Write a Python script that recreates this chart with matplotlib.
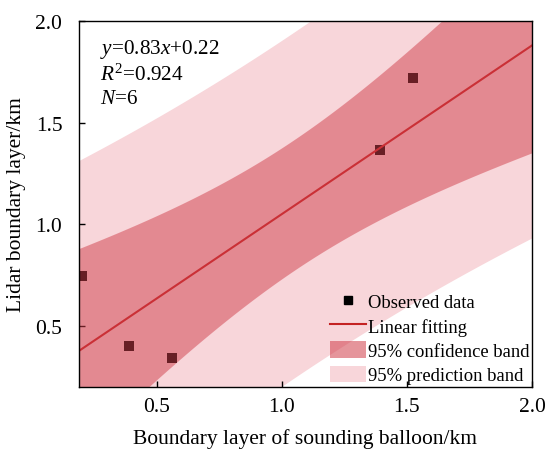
import numpy as np
import matplotlib.pyplot as plt
from matplotlib.lines import Line2D
from matplotlib.patches import Patch

plt.rcParams['font.family'] = 'Liberation Serif'
plt.rcParams['mathtext.fontset'] = 'custom'
plt.rcParams['mathtext.rm'] = 'Liberation Serif'
plt.rcParams['mathtext.it'] = 'Liberation Serif:italic'

# boundary layer height (km): sounding balloon vs lidar
balloon = [0.204, 0.388, 0.56, 1.392, 1.524, 2.23]
lidar = [0.745, 0.402, 0.343, 1.368, 1.72, 2.01]

# fitted line as reported
slope = 0.83
intercept = 0.22
r2 = 0.924
t95 = 2.776  # t(0.975, df=4)

x = np.array(balloon)
y = np.array(lidar)
n = len(x)
resid = y - (slope * x + intercept)
s = np.sqrt(np.sum(resid ** 2) / (n - 2))
xm = x.mean()
sxx = np.sum((x - xm) ** 2)

xs = np.linspace(0.19, 2.0, 300)
fit = slope * xs + intercept
conf = t95 * s * np.sqrt(1 / n + (xs - xm) ** 2 / sxx)
pred = t95 * s * np.sqrt(1 + 1 / n + (xs - xm) ** 2 / sxx)

fig = plt.figure(figsize=(5.47, 4.52), dpi=100)
ax = fig.add_axes([0.1444, 0.1416, 0.8282, 0.8097])

conf_col = (208 / 255, 62 / 255, 74 / 255)
pred_col = '#f8d6da'

ax.fill_between(xs, fit - pred, fit + pred, color=pred_col, lw=0, zorder=1)
ax.scatter(x, y, marker='s', s=42, color='black', lw=0, zorder=2)
ax.plot(xs, fit, color='#c42222', lw=1.5, zorder=3)
ax.fill_between(xs, fit - conf, fit + conf, color=conf_col, alpha=0.5, lw=0, zorder=4)

ax.set_xlim(0.19, 2.0)
ax.set_ylim(0.2, 2.0)
ax.set_xticks([0.5, 1.0, 1.5, 2.0])
ax.set_yticks([0.5, 1.0, 1.5, 2.0])
ax.tick_params(direction='in', length=4, width=1, labelsize=15.5)
ax.tick_params(axis='x', pad=7)
ax.tick_params(axis='y', pad=12)
for sp in ax.spines.values():
    sp.set_linewidth(1.0)
    sp.set_zorder(6)

ax.set_xlabel('Boundary layer of sounding balloon/km', fontsize=15.5)
ax.set_ylabel('Lidar boundary layer/km', fontsize=15.5)
ax.xaxis.set_label_coords(0.5, -0.113)
ax.yaxis.set_label_coords(-0.117, 0.5)

ax.text(0.046, 0.955, r'$y$=%.2f$x$+%.2f' % (slope, intercept), transform=ax.transAxes,
        fontsize=15.3, va='top', zorder=7)
ax.text(0.046, 0.885, r'$R^2$=%.3f' % r2, transform=ax.transAxes,
        fontsize=15.3, va='top', zorder=7)
ax.text(0.046, 0.815, r'$N$=%d' % n, transform=ax.transAxes,
        fontsize=15.3, va='top', zorder=7)

handles = [
    Line2D([], [], marker='s', color='black', ls='none', markersize=6),
    Line2D([], [], color='#c42222', lw=1.5),
    Patch(facecolor=conf_col, alpha=0.55, lw=0),
    Patch(facecolor=pred_col, lw=0),
]
labels = ['Observed data', 'Linear fitting', '95% confidence band', '95% prediction band']
ax.legend(handles, labels, loc='lower right', frameon=False, fontsize=13.4,
          handlelength=1.9, handleheight=1.0, handletextpad=0.1,
          labelspacing=0.3, borderaxespad=0.0, borderpad=0.15).set_zorder(8)

fig.savefig('out.png', dpi=100)
